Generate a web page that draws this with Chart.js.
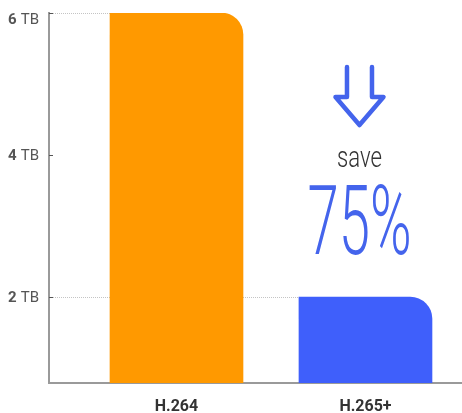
<!DOCTYPE html>
<html>
<head>
<meta charset="utf-8">
<script src="https://cdn.jsdelivr.net/npm/chart.js@4"></script>
<style>
  html, body { margin: 0; padding: 0; background: #fff; }
  #wrap { width: 462px; height: 413px; }
</style>
</head>
<body>
<div id="wrap"><canvas id="myChart"></canvas></div>
<script>
const categories = ['H.264', 'H.265+'];
const storageTB = [6, 2];
const barColors = ['#FF9900', '#3F5FFB'];
const yTickValues = [2, 4, 6];
const yTickUnit = 'TB';
const saveWord = 'save';
const saveAmount = '75%';

const accent = '#4464EC';

// short inward tick marks, and the dotted leader from the axis to each bar top
const guides = {
  id: 'guides',
  beforeDatasetsDraw(chart) {
    const { ctx, chartArea, scales } = chart;
    const meta = chart.getDatasetMeta(0);
    ctx.save();
    ctx.strokeStyle = '#c4c4c4';
    ctx.lineWidth = 1;
    ctx.setLineDash([1, 1]);
    meta.data.forEach((bar) => {
      const y = Math.round(bar.y) + 0.5;
      ctx.beginPath();
      ctx.moveTo(chartArea.left + 4, y);
      ctx.lineTo(bar.x - bar.width / 2, y);
      ctx.stroke();
    });
    ctx.setLineDash([]);
    ctx.strokeStyle = '#555';
    ctx.lineWidth = 1;
    yTickValues.forEach((v) => {
      const y = Math.round(scales.y.getPixelForValue(v)) + 0.5;
      ctx.beginPath();
      ctx.moveTo(chartArea.left, y);
      ctx.lineTo(chartArea.left + 4, y);
      ctx.stroke();
    });
    ctx.restore();
  },
  afterDraw(chart) {
    const { ctx, chartArea, scales } = chart;
    // y tick labels: bold number + plain unit
    ctx.save();
    ctx.textBaseline = 'middle';
    yTickValues.forEach((v) => {
      let y = scales.y.getPixelForValue(v) + 1;
      y = Math.max(y, chartArea.top + 7);
      const right = chartArea.left - 10;
      ctx.font = '15px Roboto';
      ctx.fillStyle = '#555';
      const unitW = ctx.measureText(yTickUnit).width;
      ctx.textAlign = 'right';
      ctx.fillText(yTickUnit, right, y);
      ctx.font = 'bold 15px Roboto';
      ctx.fillText(String(v), right - unitW - 4, y);
    });
    ctx.restore();

    // savings note next to the second bar
    const cx = chart.getDatasetMeta(0).data[1].x - 6;
    ctx.save();
    ctx.strokeStyle = accent;
    ctx.lineWidth = 4.5;
    ctx.lineJoin = 'round';
    ctx.lineCap = 'round';
    ctx.beginPath();
    ctx.moveTo(cx - 12.5, 67);
    ctx.lineTo(cx - 12.5, 97);
    ctx.lineTo(cx - 24, 97);
    ctx.lineTo(cx, 125);
    ctx.lineTo(cx + 24, 97);
    ctx.lineTo(cx + 12.5, 97);
    ctx.lineTo(cx + 12.5, 67);
    ctx.stroke();

    ctx.textAlign = 'center';
    ctx.textBaseline = 'alphabetic';

    ctx.font = '300 30px Roboto';
    ctx.fillStyle = '#333';
    let w = ctx.measureText(saveWord).width;
    ctx.save();
    ctx.translate(cx, 167);
    ctx.scale(45 / w, 1);
    ctx.fillText(saveWord, 0, 0);
    ctx.restore();

    ctx.font = '300 97px Roboto';
    ctx.fillStyle = accent;
    w = ctx.measureText(saveAmount).width;
    ctx.save();
    ctx.translate(cx, 254);
    ctx.scale(104 / w, 1);
    ctx.fillText(saveAmount, 0, 0);
    ctx.restore();
    ctx.restore();
  }
};

const chartData = {
  datasets: [{
    data: categories.map((c, i) => ({ x: i + 1, y: storageTB[i] })),
    backgroundColor: barColors,
    borderRadius: { topLeft: 0, topRight: 22, bottomLeft: 0, bottomRight: 0 },
    borderSkipped: false,
    barThickness: 133
  }]
};

const config = {
  type: 'bar',
  data: chartData,
  options: {
    responsive: true,
    maintainAspectRatio: false,
    animation: false,
    layout: { padding: { top: 13, left: 0, right: 0, bottom: 0 } },
    plugins: { legend: { display: false }, tooltip: { enabled: false } },
    scales: {
      x: {
        type: 'linear',
        offset: false,
        min: 0.3254,
        max: 2.5107,
        grid: { display: false },
        border: { display: true, color: '#9a9a9a', width: 2 },
        afterBuildTicks: (scale) => {
          scale.ticks = categories.map((c, i) => ({ value: i + 1 }));
        },
        afterFit: (scale) => { scale.height = 30; },
        ticks: {
          padding: 6,
          color: '#333',
          font: { family: 'Roboto', size: 16, weight: 'bold' },
          callback: (v) => categories[v - 1] || ''
        }
      },
      y: {
        min: 0.79,
        max: 6,
        grid: { display: false },
        border: { display: true, color: '#9a9a9a', width: 2 },
        afterBuildTicks: (scale) => {
          scale.ticks = yTickValues.map((v) => ({ value: v }));
        },
        afterFit: (scale) => { scale.width = 49; },
        ticks: { display: false }
      }
    }
  },
  plugins: [guides]
};

document.addEventListener('DOMContentLoaded', () => {
  new Chart(document.querySelector('#myChart'), config);
});
</script>
</body>
</html>
